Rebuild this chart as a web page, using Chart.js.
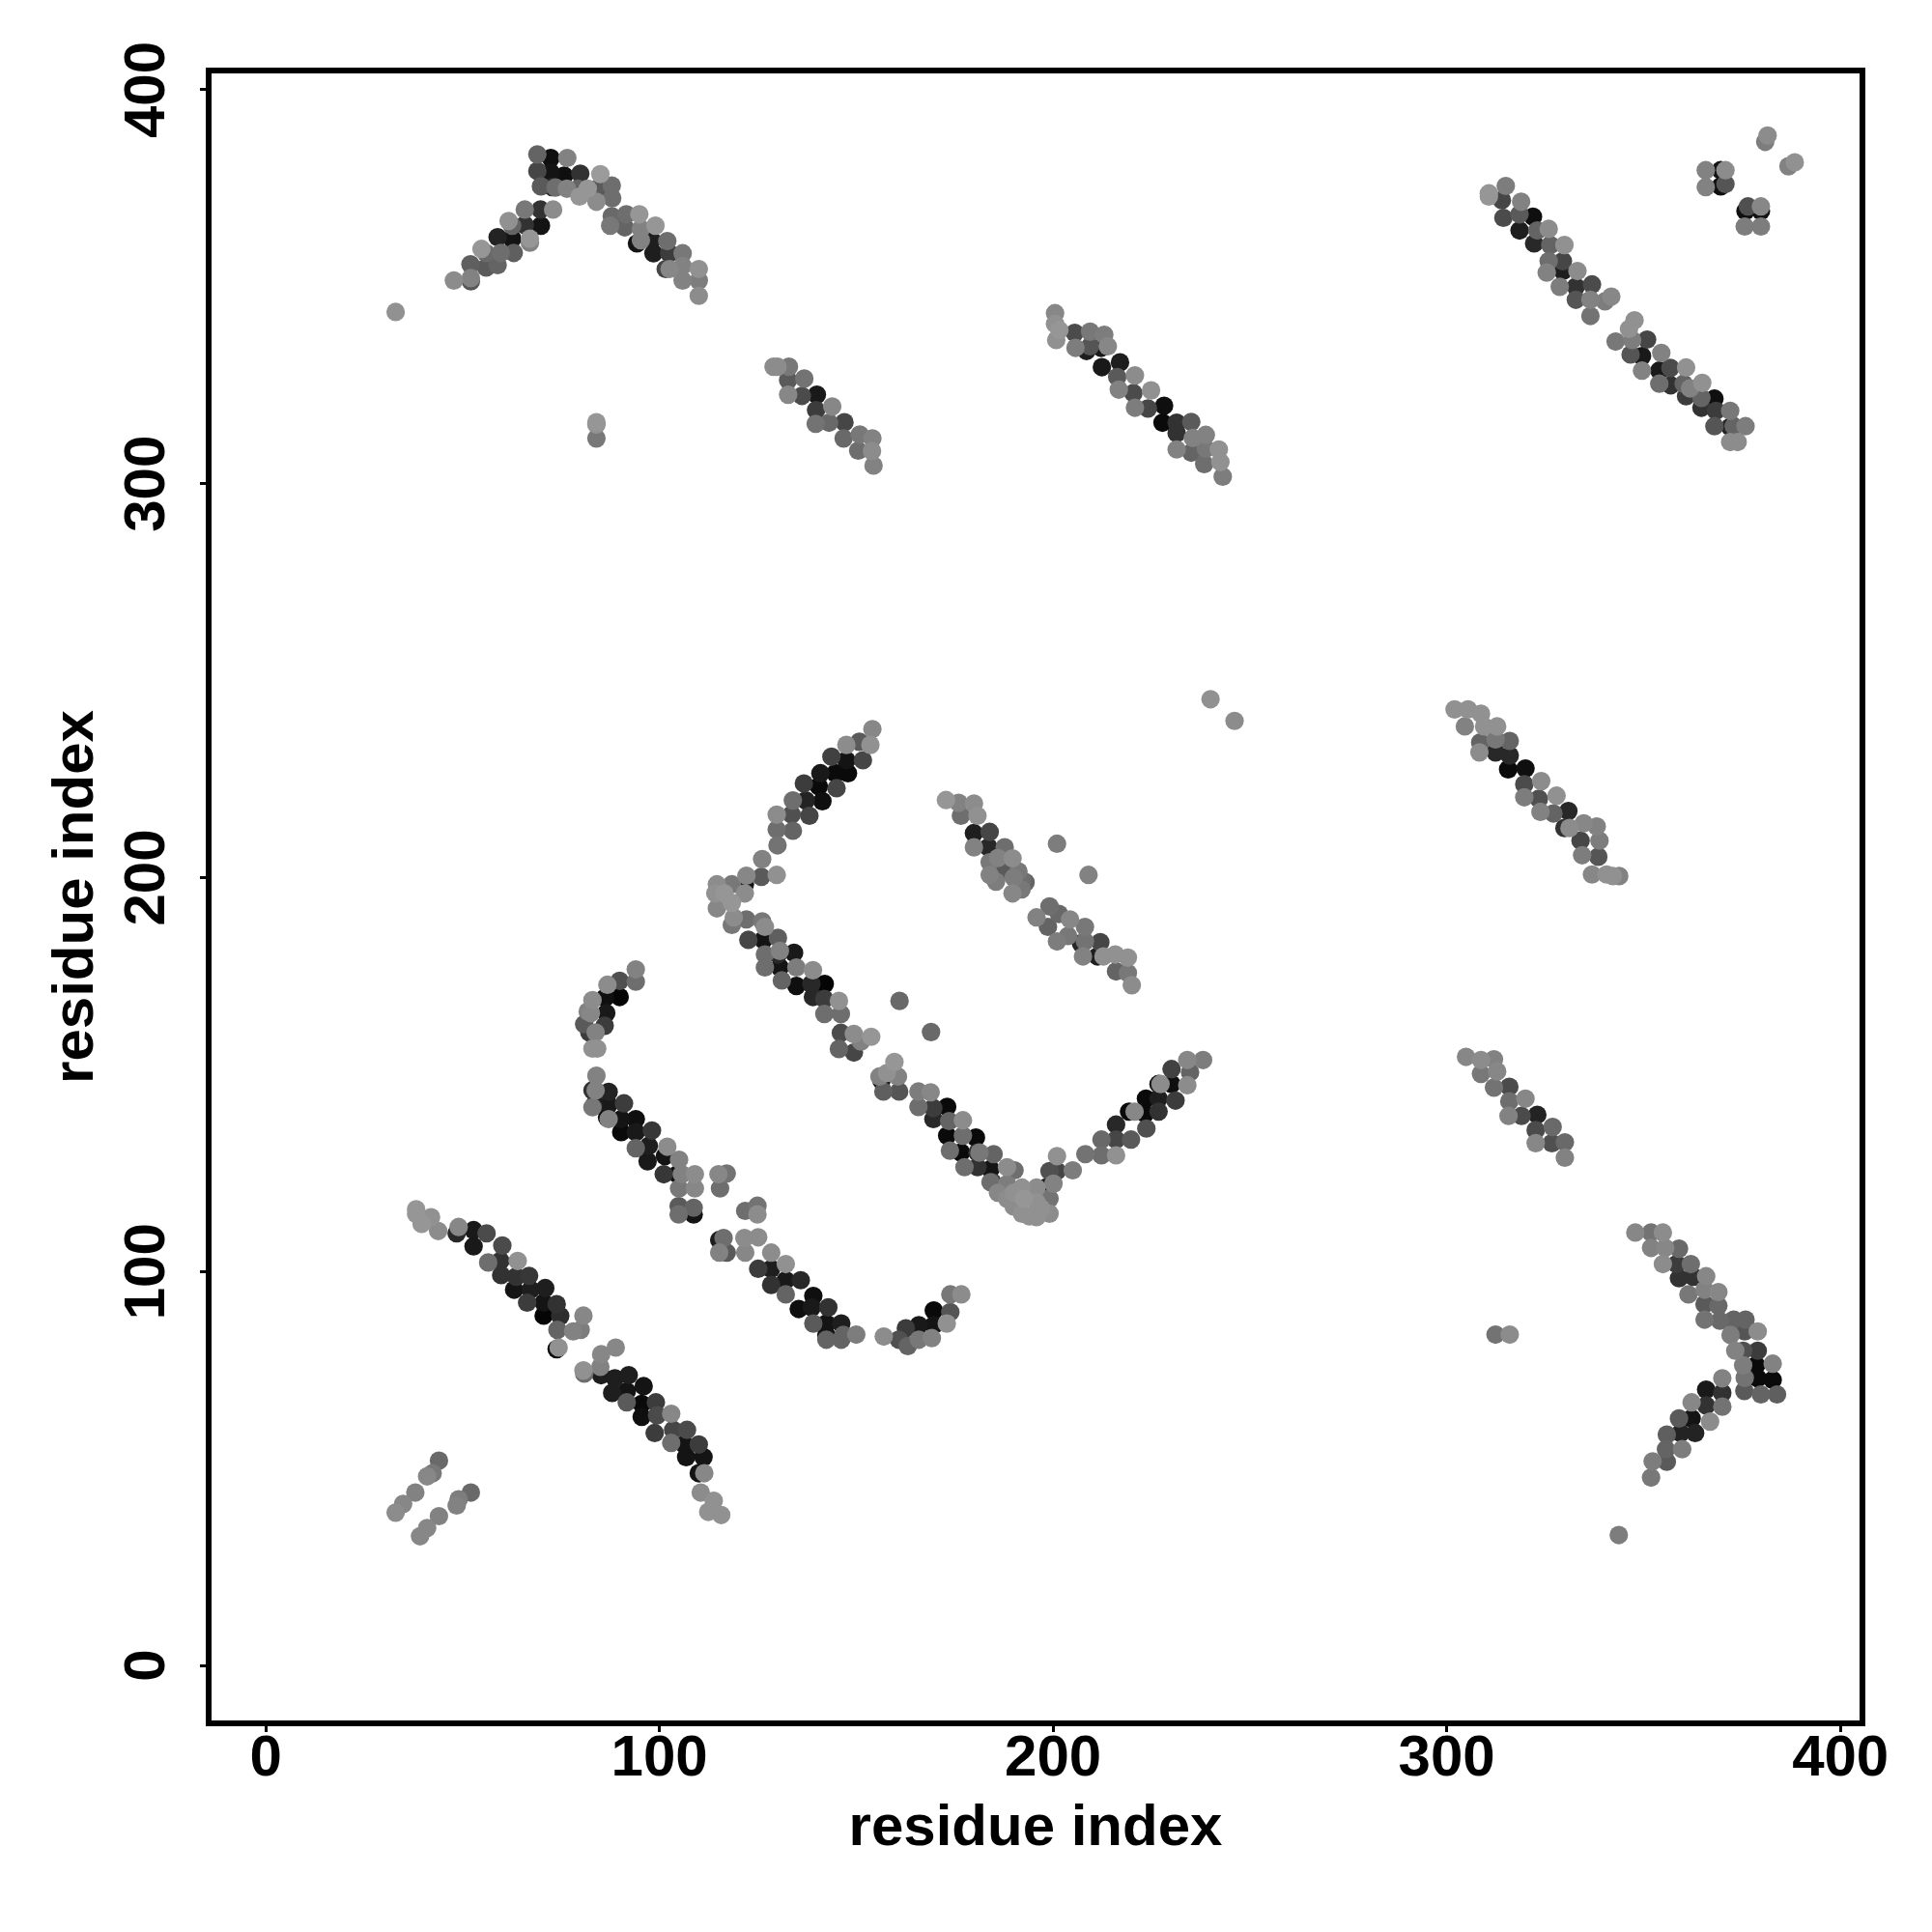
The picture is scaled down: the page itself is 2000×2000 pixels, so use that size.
<!DOCTYPE html>
<html>
<head>
<meta charset="utf-8">
<title>residue contacts</title>
<script src="https://cdn.jsdelivr.net/npm/chart.js@4"></script>
<style>
  html, body { margin: 0; padding: 0; background: #fff; }
  canvas { display: block; }
</style>
</head>
<body>
<canvas id="contacts" width="2000" height="2000"></canvas>
<script>
// tick labels
const tickValues = [0, 100, 200, 300, 400];
const axisName = "residue index";

// every point is [residue x, residue y, strength], strength 0 = palest, 150 = black
const humpLeft = [[52.1,351.4,70],[47.8,351.6,15],[52.1,352.2,25],[52,355.7,60],[56,354.9,65],[58.9,355.5,55],[54.8,359.6,5],[55.9,358.6,50],[59.7,358.6,45],[63,358.6,60],[58.9,362.6,120],[62.6,362.2,135],[67.1,361.2,25],[67.1,362.2,5],[61.7,366.7,10],[62.6,365.5,55],[65.8,365.7,105],[69.9,365.5,135],[65.8,369.6,35],[69.8,369.6,105],[73,369.6,15]];
const humpRight = [[69,379.4,85],[69.9,375.5,65],[69,383.6,55],[72.4,379,135],[72.4,382.7,140],[72.8,375.3,115],[73.6,375.2,45],[75.8,378.2,140],[76.6,382.7,25],[76.5,374.9,25],[79.9,378.7,105],[79.3,374.9,55],[79.7,372.9,5],[85,378.6,0],[84.5,375.1,65],[81.8,374.9,5],[84,371.6,15],[87.9,375.7,45],[88,372.5,45],[87.9,367.9,50],[87.5,365.5,35],[91.6,368.4,45],[91.2,365.1,55],[94.9,368.4,5],[95.3,364.7,25],[99,365.5,5],[94.3,361,135],[95.3,361.8,25],[98.1,361.8,125],[98.5,358.5,125],[102,361.6,45],[102.5,358.5,95],[105.9,358.5,35],[101.6,354.5,85],[102.6,354.5,20],[105.9,355.3,25],[105.9,351.6,25],[110,351.6,30],[110,354.5,10],[110,347.7,15]];
const loneUpper = [[33,343.6,10],[84,311.5,35],[84,315,10],[84,315.6,5],[240,245.3,10],[246.1,239.8,15],[201,208.6,30],[209,200.7,25],[161,168.7,50],[169,160.8,50],[312.4,84,40],[316,84,15],[343.7,33.1,30]];
const stripTopA = [[310.7,372.9,5],[310.7,373.7,5],[315,375.6,30],[314.4,367.5,80],[314,372,85],[318.9,371.6,25],[318.5,364.3,125],[318.5,368.4,65],[321.9,367.8,140],[322.2,361,115],[323,364.3,55],[325.9,364.7,15],[325.4,353.6,25],[325.9,356.5,45],[326.3,360.6,55],[329.9,360.6,10],[328.7,350,30],[329.5,356.5,85],[329.5,354,125],[332.8,346.7,70],[333.2,354,15],[332.8,350,105],[336.5,342.6,40],[336.9,350.6,80],[336.5,346.7,25],[340.2,346.3,30],[341.8,347.5,20]];
const stripTopB = [[342.9,336.1,35],[346.7,332.8,70],[346.3,339.3,10],[347.7,341.5,10],[347.1,336.5,30],[349.6,332.4,130],[350.9,336.6,85],[349.6,328.7,25],[354.5,333.2,25],[354,328.7,130],[354,325.4,45],[356.9,325,105],[356.8,329.4,80],[360.8,322.2,95],[360.8,329.5,10],[360.2,325.4,55],[361.8,324.2,25],[364.7,319.3,105],[364.7,321.8,55],[364.9,325.6,10],[368,321.6,140],[368,314.6,70],[368.4,318.5,95],[372,318.5,35],[372,314.4,120],[372.9,314.6,55],[375.9,314.6,30],[372,310.6,15],[373.9,310.6,15]];
const cornerTop = [[365.8,375.3,25],[365.8,379.6,25],[369.6,375.5,140],[369.6,379.6,135],[370.8,376.1,70],[370.8,379.6,15],[375.7,365.3,30],[379.8,365.3,30],[375.9,369.2,140],[376.5,370.4,75],[379.8,369.2,135],[379.8,370.4,20],[380.9,386.8,30],[381.5,388.4,15],[386.8,380.6,25],[388.4,381.6,10]];
const stripMidUpper = [[129,329.7,15],[130,329.7,15],[132.9,329.7,35],[132.7,326.3,65],[132.7,322.6,20],[136.8,326.7,40],[136.2,322.3,80],[140,322.6,130],[139.8,318.7,95],[139.7,315.2,40],[143.9,319.6,20],[143.1,315.5,50],[147,315.6,85],[146.8,311.5,50],[150.9,312.5,35],[150.5,308.4,45],[154.1,311.5,25],[154,308.3,15],[154.4,304.6,25]];
const stripRightUpper = [[200.5,343.3,20],[200.5,340.6,10],[201.6,339,5],[200.8,336.5,10],[205.5,338.3,80],[205.7,334.5,30],[209.4,338.6,35],[208.5,333.7,125],[209.4,334.9,70],[213,337.8,30],[212.2,334.5,130],[212.4,329.6,130],[213.9,334.9,20],[217,330.8,125],[216.3,327.1,65],[216.7,323.9,25],[220.8,327.5,15],[220.4,323,80],[220.8,319.3,30],[224.9,323.7,10],[224.1,319.1,85],[228.2,319.8,140],[227.8,315.5,145],[231.4,315.5,105],[231.4,312.8,105],[231.4,308.7,25],[235.1,315.7,65],[235.1,307.9,55],[235.5,311.6,25],[238.8,312.4,25],[238.4,305,45],[238.8,308.9,35],[242.1,308.7,10],[242.5,305.5,10],[243.1,301.8,30]];
const chevronUp = [[154.1,237.7,20],[153.6,233.7,10],[147.5,233.7,15],[150.8,234.5,65],[151.7,229.8,85],[143.7,230.7,90],[147.5,229.8,135],[147.9,226.5,145],[140.9,226.5,130],[144.7,226.5,145],[145,222.7,85],[136.7,223.9,95],[140.5,223.2,145],[141.4,219.4,140],[137.2,219.6,120],[133.9,219.6,45],[138.1,215.7,85],[133.6,216,75],[129.8,216,15],[133.9,211.9,55],[129.8,212.2,45],[130,208.2,40],[126.1,204.7,25]];
const chevronJoint = [[129.8,200.7,10],[125.9,200.2,65],[122.1,200.5,20],[121.7,198.3,135],[118.4,198.3,35],[114.6,198.3,15],[114.2,196,10],[116.5,196,5],[121.7,196,15],[118.4,193.6,5],[114.6,192.2,20],[118.9,189.9,15],[118.4,188,35],[122.1,189.4,45],[126.1,188.9,35],[126.8,187.5,15]];
const chevronDownA = [[122.6,184.2,85],[126.4,184.2,135],[130.1,184.7,60],[126.8,180.5,45],[126.8,177.2,45],[130.1,180.5,115],[130.6,181.4,25],[134.2,180.9,130],[131.1,173.9,55],[130.6,177.2,135],[134.8,177.2,30],[134.8,172.5,140],[139,176.5,15],[142,173,150],[138.6,173,115],[139,169.7,115],[141.9,165.4,45],[141.9,169.2,95],[145.6,168.7,10],[146.1,165.4,45],[146.1,160.6,80],[145.6,156.5,55],[149.4,160.3,15],[149.4,155.6,85],[151.2,158.4,25],[153.8,159.6,5]];
const chevronDownB = [[155.9,149.5,25],[156.9,145.7,60],[156.4,148.5,135],[160.6,149.5,25],[159.7,153.2,5],[157.8,150.4,10],[160.9,145.7,70],[165.8,145.7,30],[165.8,141.8,45],[168.9,145.5,20],[169.6,141.5,95],[169.6,138.7,115],[173.1,141.8,145],[173.1,134.5,145],[173.8,130.7,45],[173.6,138.2,55],[177.1,138.4,15],[176.6,130.2,145],[177.1,134.5,45],[180.4,134,145],[180.8,130.2,105],[177.5,126.5,45],[181.3,130.2,35],[184.9,129.8,55],[180.8,126.5,105],[184.1,126,135],[184.6,122.7,95],[184.1,122.7,45],[188.3,126.5,15],[190.2,125.7,45],[188.3,122.2,30],[188.3,118.5,15],[192.1,121.3,10],[192.6,118.5,5],[192.1,114.7,10],[195.8,121.3,15],[195.8,117.6,10],[195.8,113.8,10],[199.1,114.7,15],[199.1,118.5,40],[200.1,122.3,25],[198.2,121.3,135],[199.1,125.5,75],[201,125.5,85],[201,129.3,10],[205,125.7,30],[186,120,20],[190,116.5,15],[194,114,10],[190,120,10],[197,116,10]];
const chevronRise = [[208.2,129.8,40],[212.3,129.5,45],[216,129.5,10],[212.3,133.5,50],[216,133.5,85],[216,137.3,115],[219.8,133.5,65],[219.3,140.6,145],[220.7,140.6,20],[223.7,136.3,75],[223.4,140.1,145],[223.6,143.9,145],[226.8,140.6,105],[226.8,143.9,125],[231.1,143.4,95],[226.8,147.6,135],[230.1,147.6,140],[227.3,147.6,15],[234.1,147.3,15],[230.1,151.4,90],[234.8,150.6,55],[234.1,153.7,20],[238.1,153.7,30]];
const stripCenter = [[172.8,219.7,5],[176,219,25],[179.9,218.8,15],[176.6,215.7,45],[180.8,215.7,10],[179.9,211.3,125],[183.9,211.6,85],[179.9,207.7,25],[183.6,207.7,115],[183.9,203.9,35],[183.9,200.7,25],[187.7,207.7,45],[187.4,201.6,65],[189.7,204.9,15],[191.2,201.6,35],[192.1,199.3,45],[189.7,196,20],[193,198.8,55],[186,205,25],[190,200,30],[192,197,35],[185.5,199,30],[195.8,189.9,25],[199.1,192.7,45],[198.7,187.5,55],[201.5,190.8,50],[201,183.8,30],[204.3,189.4,20],[203.8,185.2,35],[208.1,187.5,35],[207.1,183.3,115],[207.6,180,25],[208.1,183.8,40],[212,183.6,85],[211.3,180,125],[212.8,180,10],[215.8,180.5,10],[219,179.7,10],[216,176.2,55],[219,175.8,35],[220,172.7,15]];
const stripRightMid = [[302,242.7,10],[305.4,242.7,10],[304.6,238.4,25],[308.7,241.6,10],[308.5,234.3,55],[308.3,231.8,15],[309.5,238.4,10],[312.8,238.4,10],[312.4,235.1,35],[312.4,231.8,115],[316,234.7,55],[316,231,115],[315.6,227.5,145],[320,227.7,140],[319.7,223.7,80],[319.7,220.4,30],[324,224.5,15],[323.4,220,75],[323.8,216.7,25],[327.9,220.8,10],[327.1,216.3,55],[330.9,216.9,115],[329.9,212.6,105],[331.2,212.6,15],[334.8,213.8,20],[334,209.4,85],[334.4,205.7,30],[338.1,213,25],[338.8,209.4,30],[338.5,205.3,70],[336.9,200.8,20],[340.6,200.8,10],[343.8,200.4,25],[342.2,200.4,10]];
const stripRightLow = [[304.9,154.5,20],[308.7,153.7,15],[312,153.9,25],[308.7,150.2,35],[312.8,150.8,20],[312,146.7,40],[315.9,146.9,80],[315.9,143.2,45],[315.7,139.5,25],[320,143.9,20],[319,139.5,80],[323,139.8,120],[322.6,135.9,80],[322.6,132.6,20],[326.9,136.7,50],[326.7,132.6,75],[330,132.8,50],[330,128.9,25]];
const arrowRight = [[347.9,109.9,20],[351.9,109.9,40],[354.9,109.9,15],[351.9,106,25],[355.5,106,20],[359,105.8,50],[354.9,101.9,15],[358.4,101.9,95],[362,101.9,45],[359,98.3,105],[362.6,98.7,105],[361.4,94.2,35],[365.9,98.8,20],[365.5,95.4,25],[365.5,91.7,65],[365.5,87.8,40],[369,94.8,20],[369,91.3,50],[369.4,87.5,50],[372.9,87.8,55],[375.9,87.8,55],[372.1,83.9,30],[375.7,84.8,70],[379,84.8,15],[373.3,79.9,25],[375.3,79.9,75],[379,79.9,95],[378.6,76.2,145],[375.3,76.2,30],[375.7,73,40],[375.6,69.7,65],[379,72.9,145],[379.8,68.8,55],[382.8,76.6,25],[382.8,72.5,145],[383.9,68.8,60],[370,72.9,25],[370,69.2,105],[365.9,70,130],[365.9,66,105],[370,65.7,40],[362.2,66.8,20],[362.2,62.7,135],[366.9,61.9,15],[359,62.7,65],[359.4,59,120],[363.1,59,120],[355.9,58.6,60],[355.7,54.9,55],[359.8,54.9,30],[352.3,51.8,30],[355.9,51.7,65],[351.9,47.7,35]];
const strandsLow = [[44,52,50],[42.4,48.8,35],[41,48,20],[38,43.9,25],[34.9,41,20],[33,38.8,15],[52.1,43.9,50],[49,42.2,30],[48.5,40.6,25],[44,37.9,25],[41,34.9,20],[39.2,32.8,20]];
const diagLowA = [[38.2,115.8,5],[38.2,114.6,5],[39.6,112.1,5],[42,113.8,10],[43.8,110.3,15],[49,111.3,20],[48.5,109.7,115],[52.8,106.4,130],[52.8,110.5,130],[56.1,109.7,80],[60.1,106.6,80],[56.5,102.3,45],[59.6,102.7,105],[64,102.7,10],[59.8,99.1,105],[63.6,98.7,105],[66.9,98.9,100],[63.1,95.4,135],[67.3,95.4,125],[71,95.8,125],[66.4,92.1,95],[70.6,92.1,135],[73.9,91.7,105],[74.8,88.7,110],[70.6,88.8,150],[74.1,85.2,55],[78.1,84.8,25],[80,85.2,30],[80.7,88.8,20],[73.9,80.3,145],[74.4,80.7,10]];
const diagLowB = [[80.9,74.1,45],[80.7,74.9,10],[85.2,73.7,125],[85,75.8,25],[85.2,79,20],[88.9,80.7,20],[88.7,72.9,125],[88,69.2,125],[92.2,73.7,125],[91.7,69.6,135],[91.7,66.8,65],[96,70.9,135],[95.5,66.4,145],[95.5,63.1,140],[99.1,66.8,95],[99.4,63.5,80],[98.8,59,95],[103,63.9,20],[103,56.5,45],[103.5,59.8,85],[107,59.8,80],[106.8,52.9,135],[106.3,56.1,135],[110,56.1,95],[111.2,52.9,135],[110,48.8,135],[111.4,48.8,20],[110.5,43.9,15],[113.8,41.8,10],[112.4,39,10],[115.7,38.2,10]];
const diagMidLow = [[115.2,108,125],[116.3,108.5,45],[117.1,104.8,65],[115.2,104.8,25],[121.6,108.5,15],[125.1,108.7,15],[121.8,104.8,20],[125.1,100.7,95],[128.4,104.8,15],[128.4,96.6,105],[128.4,100.7,125],[132.1,101.9,10],[132.1,94.2,55],[132.1,97.8,130],[135.9,97.8,115],[135.4,90.5,140],[139.1,93.8,140],[138.7,90.9,130],[142.9,90.9,105],[139.1,86.8,65],[142.4,86.8,135],[146.2,86.8,125],[142.4,82.7,55],[142.4,83.9,135],[146.2,82.7,55],[146.7,83.9,55],[150,84,30]];
const hookLow = [[157,83.5,15],[163.1,81.1,55],[160.8,82.7,75],[162.6,85.6,95],[165.9,86.4,130],[165.9,82.7,35],[169.2,83.1,25],[169.7,86.4,135],[169.7,90.1,145],[173,86.8,10],[173.9,89.7,70],[173.9,94.2,35],[176.7,94.2,15]];
const armUpper = [[94,176.7,25],[94,173.6,45],[86.8,172.8,15],[89.9,173.8,75],[89.9,169.7,150],[86.2,169.5,140],[83,168.9,15],[86.5,165.6,130],[82.6,165.6,20],[81.8,166,25],[86.1,162.4,95],[80.9,162.8,65],[82.2,160.7,95],[83.8,160.7,25],[83,156.6,10],[84.2,156.6,10]];
const armLower = [[84,149.7,25],[83,146,105],[83.8,146,25],[83,141.7,35],[83.6,142.5,125],[87.1,145.6,120],[87.1,142.3,130],[91,142.7,95],[87.1,138.7,25],[86.7,139.1,145],[90.3,138.7,135],[94,138.7,140],[90.3,135.4,145],[94,135.4,130],[94,131.3,55],[98.1,135.8,100],[97.3,131.9,125],[97,128,130],[101.4,129.3,135],[102,131.7,15],[101.1,124.7,100],[105,128.4,25],[104.6,124.7,140],[105.7,124.7,25],[109,124.7,15],[105,121.1,35],[109,121.1,20],[104.9,116.6,65],[104.9,114.5,45],[108.7,116.2,55],[108.7,114.5,135],[115,124.7,20],[117.1,124.9,40],[115.4,121.1,45],[121.8,115.4,45],[124.9,116.7,40],[124.9,114.5,15]];

const bands = [humpLeft, humpRight, loneUpper, stripTopA, stripTopB, cornerTop, stripMidUpper,
  stripRightUpper, chevronUp, chevronJoint, chevronDownA, chevronDownB, chevronRise, stripCenter,
  stripRightMid, stripRightLow, arrowRight, strandsLow, diagLowA, diagLowB, diagMidLow, hookLow,
  armUpper, armLower];

function shade(strength) {
  const g = 155 - strength;
  return `rgb(${g},${g},${g})`;
}

// darker points go underneath, as in the picture
const datasets = bands.map((band) => {
  const sorted = [...band].sort((a, b) => b[2] - a[2]);
  return {
    data: sorted.map((p) => ({ x: p[0], y: p[1] })),
    pointBackgroundColor: sorted.map((p) => shade(p[2])),
    pointBorderWidth: 0,
    pointRadius: 9.6,
    showLine: false,
    clip: false,
  };
});

const boldFont = { family: "'Liberation Sans'", weight: "bold", size: 60 };

// the box round the plot
const frame = {
  id: "frame",
  afterDatasetsDraw(chart) {
    const { ctx, chartArea: a } = chart;
    ctx.save();
    ctx.strokeStyle = "#000";
    ctx.lineWidth = 6;
    ctx.strokeRect(a.left, a.top, a.right - a.left, a.bottom - a.top);
    ctx.restore();
  },
};

const useTicks = (scale) => {
  scale.ticks = tickValues.map((v) => ({ value: v }));
};

new Chart(document.getElementById("contacts"), {
  type: "scatter",
  data: { datasets },
  plugins: [frame],
  options: {
    responsive: false,
    animation: false,
    layout: { padding: { top: 73, right: 72, left: 0, bottom: 0 } },
    plugins: { legend: { display: false }, tooltip: { enabled: false } },
    scales: {
      x: {
        type: "linear",
        min: -14.5,
        max: 405.6,
        afterBuildTicks: useTicks,
        afterFit(scale) { scale.height = 216; },
        border: { display: false },
        grid: { drawOnChartArea: false, tickLength: 9, tickWidth: 3, color: "#000" },
        ticks: { color: "#000", font: boldFont, padding: -8, maxRotation: 0, autoSkip: false },
        title: { display: true, text: axisName, color: "#000", font: boldFont, padding: { top: 0, bottom: 71 } },
      },
      y: {
        type: "linear",
        min: -14.7,
        max: 404.9,
        afterBuildTicks: useTicks,
        afterFit(scale) { scale.width = 216; },
        border: { display: false },
        grid: { drawOnChartArea: false, tickLength: 9, tickWidth: 3, color: "#000" },
        ticks: { color: "#000", font: boldFont, padding: 3, minRotation: 90, maxRotation: 90, crossAlign: "center", autoSkip: false },
        title: { display: true, text: axisName, color: "#000", font: boldFont, padding: { top: 43, bottom: 0 } },
      },
    },
  },
});
</script>
</body>
</html>
